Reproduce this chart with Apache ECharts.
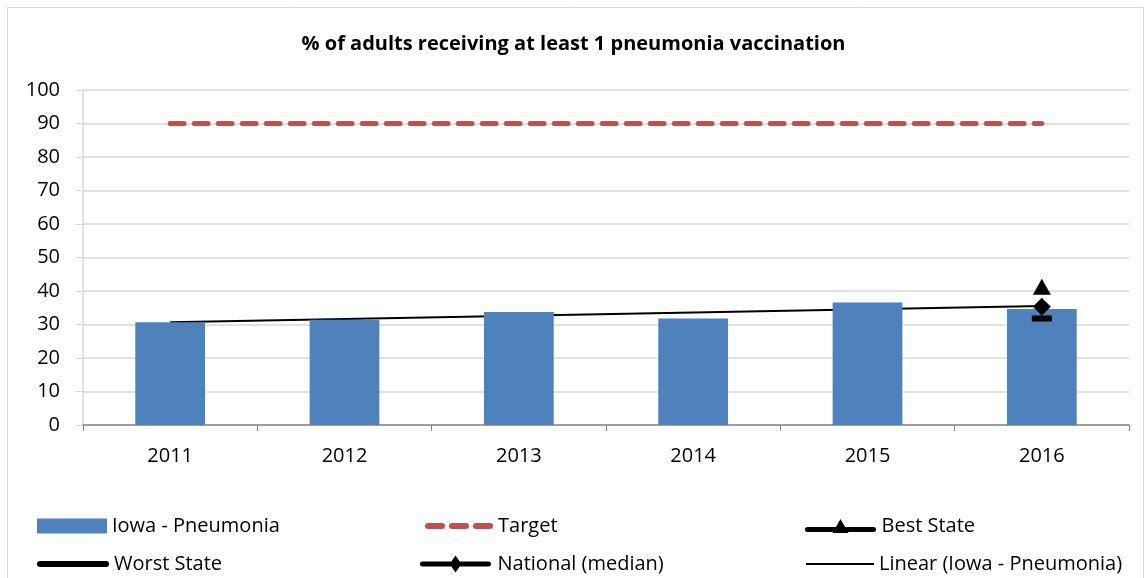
<!DOCTYPE html>
<html>
<head>
<meta charset="utf-8">
<script src="https://cdn.jsdelivr.net/npm/echarts@6/dist/echarts.min.js"></script>
<style>
  html, body { margin: 0; padding: 0; background: #fff; }
  #chart { width: 1147px; height: 578px; }
</style>
</head>
<body>
<div id="chart"></div>
<script>
// data
const years = ['2011', '2012', '2013', '2014', '2015', '2016']
const iowa = [30.7, 31.4, 33.7, 31.8, 36.6, 34.6]
const target = [90, 90, 90, 90, 90, 90]
const bestState = [null, null, null, null, null, 41.3]
const worstState = [null, null, null, null, null, 31.8]
const national = [null, null, null, null, null, 35.3]
// trend line ends (2011, 2016)
const trendEnds = [30.7, 35.5]

const FONT = 'Open Sans'
const chart = echarts.init(document.getElementById('chart'))

// legend icons drawn like the excel ones
const ICON_DASHES = 'path://M3,0h14a3,3 0 0 1 0,6h-14a3,3 0 0 1 0,-6z M27,0h14a3,3 0 0 1 0,6h-14a3,3 0 0 1 0,-6z M51,0h14a3,3 0 0 1 0,6h-14a3,3 0 0 1 0,-6z'
const ICON_TRIANGLE = 'path://M2,8h66a2.5,2.5 0 0 1 0,5h-66a2.5,2.5 0 0 1 0,-5z M27,14 L35,0 L43,14z'
const ICON_DIAMOND = 'path://M2,6h66a2.5,2.5 0 0 1 0,5h-66a2.5,2.5 0 0 1 0,-5z M35,0 L41,8.5 L35,17 L29,8.5z'
const ICON_THICK = 'path://M3,0h66a3,3 0 0 1 0,6h-66a3,3 0 0 1 0,-6z'

// one legend per item so each sits where it does in the picture
function legendAt(name, icon, left, top, w, h) {
    return {
        data: [{ name: name, icon: icon }],
        left: left,
        top: top,
        padding: 0,
        itemWidth: w,
        itemHeight: h,
        itemGap: 4,
        textStyle: { fontFamily: FONT, fontSize: 20, color: '#000', lineHeight: 26 },
        selectedMode: false
    }
}

chart.setOption({
    animation: false,
    title: {
        text: '% of adults receiving at least 1 pneumonia vaccination',
        left: 'center',
        top: 29,
        textStyle: { fontFamily: FONT, fontSize: 20, fontWeight: 'bold', color: '#000' }
    },
    graphic: [{
        type: 'rect',
        shape: { x: 7.5, y: 7.5, width: 1136, height: 600 },
        style: { fill: null, stroke: '#d9d9d9', lineWidth: 1 },
        silent: true
    }],
    legend: [
        legendAt('Iowa - Pneumonia', 'rect', 37, 513, 70, 15),
        legendAt('Target', ICON_DASHES, 425, 513, 68, 6),
        legendAt('Best State', ICON_TRIANGLE, 805, 513, 72, 14),
        legendAt('Worst State', ICON_THICK, 37, 551, 72, 6),
        legendAt('National (median)', ICON_DIAMOND, 420, 551, 74, 17),
        legendAt('Linear (Iowa - Pneumonia)', 'rect', 806, 551, 68, 2)
    ],
    grid: { left: 83, right: 18, top: 90, bottom: 153 },
    xAxis: {
        type: 'category',
        data: years,
        axisLine: { lineStyle: { color: '#868686', width: 1.5 } },
        axisTick: { show: true, length: 6, lineStyle: { color: '#868686' } },
        axisLabel: { fontFamily: FONT, fontSize: 20, color: '#000', margin: 21 }
    },
    yAxis: {
        type: 'value',
        min: 0,
        max: 100,
        interval: 10,
        axisLine: { show: true, lineStyle: { color: '#d9d9d9', width: 1.5 } },
        axisTick: { show: true, length: 7, lineStyle: { color: '#d9d9d9' } },
        splitLine: { lineStyle: { color: '#d9d9d9', width: 1.5 } },
        axisLabel: { fontFamily: FONT, fontSize: 20, color: '#000', margin: 23 }
    },
    series: [
        {
            name: 'Iowa - Pneumonia',
            type: 'bar',
            data: iowa,
            barWidth: '40%',
            itemStyle: { color: '#4f81bd' }
        },
        {
            name: 'Target',
            type: 'line',
            data: target,
            symbol: 'none',
            itemStyle: { color: '#c0504d' },
            lineStyle: { color: '#c0504d', width: 5, type: [14, 10], cap: 'round' }
        },
        {
            name: 'Best State',
            type: 'line',
            data: bestState,
            symbol: 'triangle',
            symbolSize: [18, 16],
            itemStyle: { color: '#000' },
            lineStyle: { color: '#000', width: 5 }
        },
        {
            name: 'Worst State',
            type: 'line',
            data: worstState,
            symbol: 'rect',
            symbolSize: [20, 6],
            itemStyle: { color: '#000' },
            lineStyle: { color: '#000', width: 5 }
        },
        {
            name: 'National (median)',
            type: 'line',
            data: national,
            symbol: 'diamond',
            symbolSize: [18, 18],
            itemStyle: { color: '#000' },
            lineStyle: { color: '#000', width: 5 }
        },
        {
            name: 'Linear (Iowa - Pneumonia)',
            type: 'line',
            data: [[years[0], trendEnds[0]], [years[5], trendEnds[1]]],
            symbol: 'none',
            z: 1,
            itemStyle: { color: '#000' },
            lineStyle: { color: '#000', width: 2 }
        }
    ]
})
</script>
</body>
</html>
